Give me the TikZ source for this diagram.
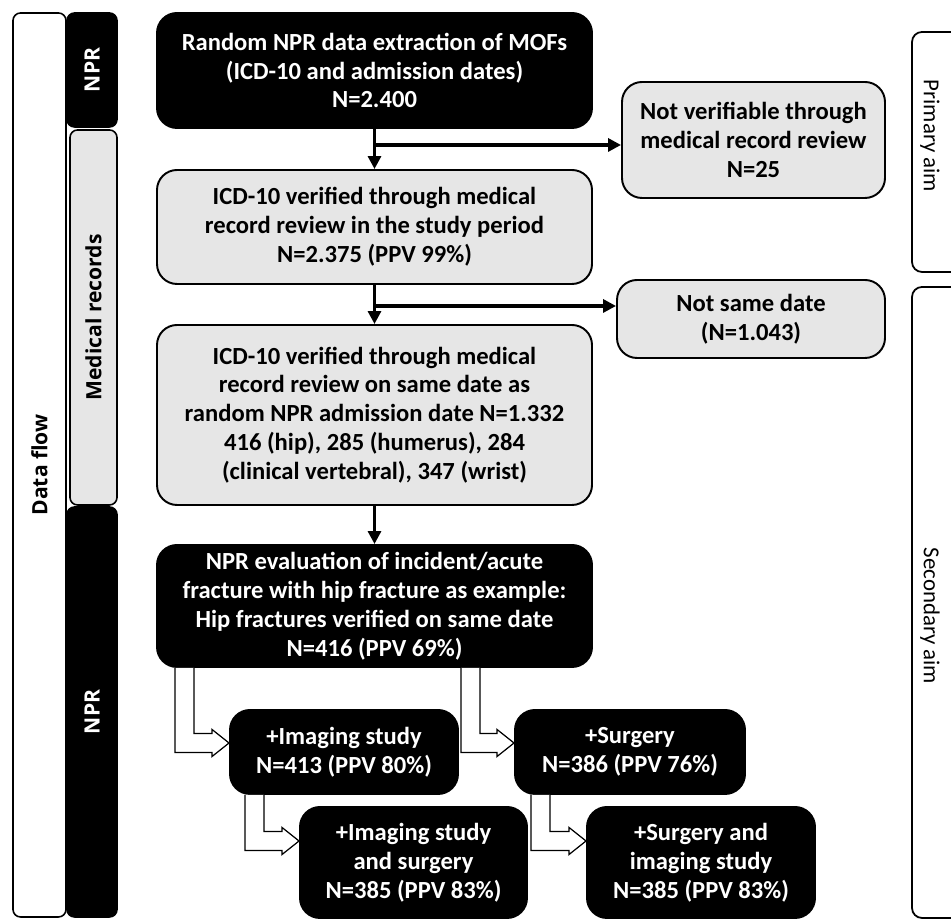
\documentclass[tikz,border=0pt]{standalone}
\usepackage{fontspec}
\setmainfont{Carlito}
\newfontfamily\sidefont{Open Sans}
\usetikzlibrary{arrows.meta,calc}
\definecolor{recgrey}{RGB}{230,230,230}

% bent hollow arrow: from node, x offset, to node, y offset at the tip
\newcommand\bentarrow[4]{%
  \draw[hollow] let \p1=([xshift=#2]#1.south west), \p2=([yshift=#4]#3.west) in
    (\x1,\y1) -- (\x1,\y2-0.19cm) -- (\x2-0.34cm,\y2-0.19cm) -- (\x2-0.34cm,\y2-0.27cm)
    -- (\p2) -- (\x2-0.34cm,\y2+0.27cm) -- (\x2-0.34cm,\y2+0.19cm)
    -- (\x1+0.38cm,\y2+0.19cm) -- (\x1+0.38cm,\y1);}

\begin{document}
\begin{tikzpicture}[
  box/.style={rectangle, rounded corners=0.4cm, draw=black, line width=1.1pt, align=center,
    inner sep=2pt, font=\fontsize{14}{16.4}\selectfont\bfseries},
  darkbox/.style={box, fill=black, text=white},
  greybox/.style={box, fill=recgrey, text=black},
  bar/.style={rectangle, rounded corners=0.15cm, draw=black, line width=0.9pt, inner sep=0pt,
    font=\sidefont\fontsize{12}{14}\selectfont\bfseries},
  aimtext/.style={rotate=-90, font=\fontsize{13}{15}\selectfont},
  flow/.style={line width=1.8pt, -{Triangle[length=0.26cm, width=0.26cm]}},
  hollow/.style={draw=black, fill=white, line width=0.7pt, line join=miter}
]
  \useasboundingbox (0,0) rectangle (19.02,18.4);
  \clip (0,0) rectangle (19.02,18.4);

  % left side bars
  \node[bar, fill=white, rotate=90, minimum width=18.08cm, minimum height=1.06cm] (dataflow) at (0.79, 9.1) {Data flow};
  \node[bar, fill=black, text=white, rotate=90, minimum width=2.28cm, minimum height=1.0cm] (nprtop) at (1.84, 17.0) {NPR};
  \node[bar, fill=recgrey, rotate=90, minimum width=7.5cm, minimum height=0.94cm] (records) at (1.87, 12.05) {Medical records};
  \node[bar, fill=black, text=white, rotate=90, minimum width=8.2cm, minimum height=1.0cm] (nprbot) at (1.84, 4.16) {NPR};

  % right side bars
  \draw[line width=1pt, rounded corners=0.2cm] (18.24,17.76) rectangle (19.9,12.96);
  \draw[line width=1pt, rounded corners=0.2cm] (18.24,12.66) rectangle (19.9,0.04);
  \node[aimtext] (primary) at (18.6, 15.68) {Primary aim};
  \node[aimtext] (secondary) at (18.6, 6.08) {Secondary aim};

  % main flow
  \node[darkbox, minimum width=8.7cm, minimum height=2.3cm] (extract) at (7.49, 16.99)
    {Random NPR data extraction of MOFs\\(ICD-10 and admission dates)\\N=2.400};
  \node[greybox, minimum width=8.7cm, minimum height=2.28cm] (verified) at (7.49, 13.86)
    {ICD-10 verified through medical\\record review in the study period\\N=2.375 (PPV 99\%)};
  \node[greybox, minimum width=8.7cm, minimum height=3.6cm] (samedate) at (7.49, 10.10)
    {ICD-10 verified through medical\\record review on same date as\\random NPR admission date N=1.332\\416 (hip), 285 (humerus), 284\\(clinical vertebral), 347 (wrist)};
  \node[darkbox, minimum width=8.7cm, minimum height=2.44cm] (hipeval) at (7.49, 6.28)
    {NPR evaluation of incident/acute\\fracture with hip fracture as example:\\Hip fractures verified on same date\\N=416 (PPV 69\%)};

  \node[greybox, minimum width=5.26cm, minimum height=2.32cm] (notverif) at (15.07, 15.6)
    {Not verifiable through\\medical record review\\N=25};
  \node[greybox, minimum width=5.36cm, minimum height=1.56cm] (notsame) at (15.02, 12.02)
    {Not same date\\(N=1.043)};

  \node[darkbox, minimum width=4.56cm, minimum height=1.68cm] (imaging) at (6.88, 3.36)
    {+Imaging study\\N=413 (PPV 80\%)};
  \node[darkbox, minimum width=4.6cm, minimum height=1.68cm] (surgery) at (12.6, 3.36)
    {+Surgery\\N=386 (PPV 76\%)};
  \node[darkbox, minimum width=4.54cm, minimum height=2.22cm] (imgsurg) at (8.27, 1.15)
    {+Imaging study\\and surgery\\N=385 (PPV 83\%)};
  \node[darkbox, minimum width=4.56cm, minimum height=2.22cm] (surgimg) at (14.02, 1.15)
    {+Surgery and\\imaging study\\N=385 (PPV 83\%)};

  % connectors
  \coordinate (split1) at (7.49, 15.5);
  \coordinate (split2) at (7.49, 12.28);
  \draw[flow] (extract) -- (verified);
  \draw[flow] (split1) -- (split1 -| notverif.west);
  \draw[flow] (verified) -- (samedate);
  \draw[flow] (split2) -- (split2 -| notsame.west);
  \draw[flow] (samedate) -- (hipeval);

  \bentarrow{hipeval}{0.38cm}{imaging}{0.18cm}
  \bentarrow{hipeval}{6.1cm}{surgery}{0.18cm}
  \bentarrow{imaging}{0.32cm}{imgsurg}{0.43cm}
  \bentarrow{surgery}{0.34cm}{surgimg}{0.43cm}
\end{tikzpicture}
\end{document}
